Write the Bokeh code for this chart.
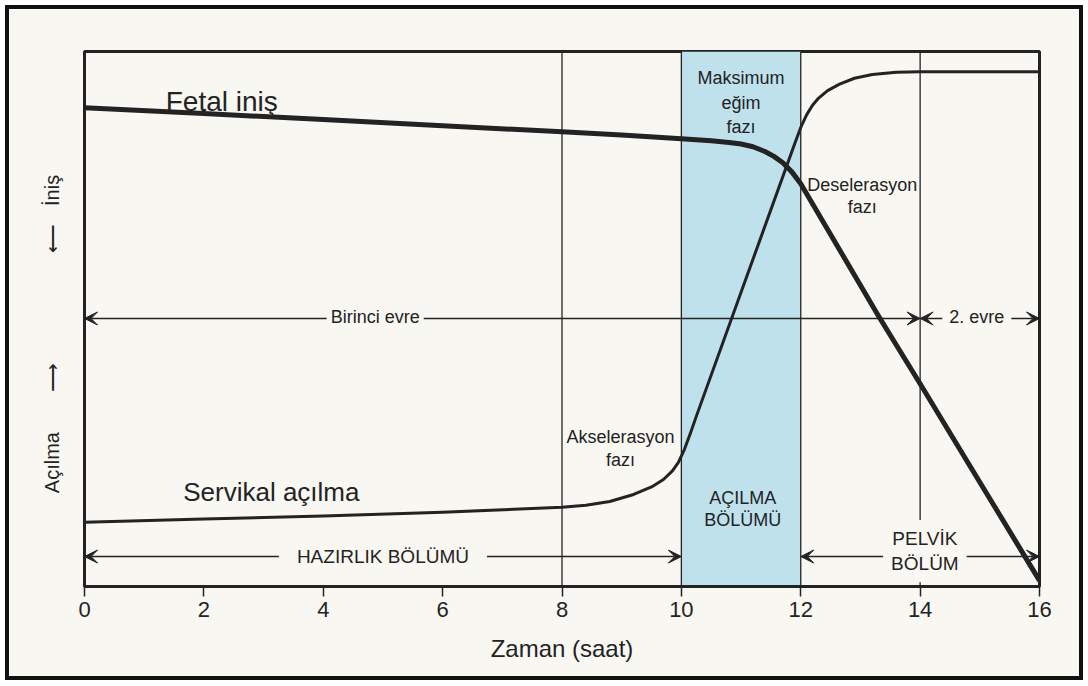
from bokeh.plotting import figure
from bokeh.models import Label, Arrow, VeeHead, FixedTicker
from bokeh.embed import file_html
from bokeh.resources import INLINE

# ---------------- data ----------------
tick_hours = [0, 2, 4, 6, 8, 10, 12, 14, 16]
phase_lines = [8, 10, 12, 14]
active_band_start = [10]
active_band_end = [12]

fetal_hours = [0, 2, 4, 6, 8, 9, 10, 10.5, 10.8, 11, 11.2, 11.4, 11.55, 11.7, 11.85, 12,
               13.3, 14, 15, 16]
fetal_descent = [89.5, 88.4, 87.3, 86.1, 85.0, 84.4, 83.7, 83.3, 83.0, 82.7, 82.2, 81.3, 80.4,
                 79.2, 77.5, 75.3, 50.6, 37.9, 19.5, 1.1]

dil_hours = [0, 2, 4, 6, 8, 8.4, 8.8, 9.2, 9.5, 9.7, 9.85, 9.95, 10.05, 10.15, 10.25, 11.0,
             11.9, 12.0, 12.1, 12.2, 12.3, 12.45, 12.65, 12.9, 13.2, 13.6, 14, 16]
cervical_dilation = [12.0, 12.6, 13.2, 13.9, 14.8, 15.2, 15.9, 17.2, 18.6, 20.0, 21.6, 23.2,
                     25.6, 28.6, 31.8, 55.0, 82.8, 85.8, 88.2, 90.0, 91.3, 92.7, 93.9, 95.0,
                     95.7, 96.1, 96.2, 96.2]

FONT = "Liberation Sans"
INK = "#232323"
BG = "#f8f7f2"
BLUE = "#bfe1ec"

p = figure(width=1078, height=675, x_range=(0, 16), y_range=(0, 100),
           output_backend="svg", toolbar_location=None,
           min_border_left=75, min_border_right=48, min_border_top=42, min_border_bottom=98)
p.styles = {"border": "4px solid #111", "margin": "5px 0 0 5px"}
p.background_fill_color = BG
p.border_fill_color = BG
p.grid.visible = False
p.outline_line_color = INK
p.outline_line_width = 3

# x axis
ax = p.xaxis[0]
ax.ticker = FixedTicker(ticks=tick_hours)
ax.axis_line_color = INK
ax.axis_line_width = 3
ax.major_tick_line_color = INK
ax.major_tick_line_width = 1.5
ax.major_tick_in = 0
ax.major_tick_out = 10
ax.minor_tick_line_color = None
ax.major_label_text_font = FONT
ax.major_label_text_font_size = "22px"
ax.major_label_text_color = INK
ax.major_label_standoff = 5
ax.axis_label = "Zaman (saat)"
ax.axis_label_text_font = FONT
ax.axis_label_text_font_size = "24px"
ax.axis_label_text_font_style = "normal"
ax.axis_label_text_color = INK
ax.axis_label_standoff = 15

# y axis: only the descriptive label (Açılma ⟶ ... ⟵ İniş)
ay = p.yaxis[0]
ay.ticker = FixedTicker(ticks=[])
ay.axis_line_color = None
ay.major_tick_out = 0
ay.major_tick_in = 0
ay.minor_tick_line_color = None
ay.major_label_standoff = 0
ay.major_label_text_font_size = "0px"
ay.axis_label = ("Açılma\u2003\u2003\u27f6"
                 "\u2003\u2003\u2003\u2003\u2003\u2002\u27f5\u2002\u2009\u2009İniş"
                 "\u2003\u2002")
ay.axis_label_text_font = FONT
ay.axis_label_text_font_size = "20px"
ay.axis_label_text_font_style = "normal"
ay.axis_label_text_color = INK
ay.axis_label_standoff = 22

# blue band (active phase)
p.quad(left=active_band_start, right=active_band_end, bottom=0, top=100,
       fill_color=BLUE, line_color=None)
# vertical phase lines
p.segment(x0=phase_lines, y0=0, x1=phase_lines, y1=100, line_color=INK, line_width=1.3)

# curves
p.line(fetal_hours, fetal_descent, line_color=INK, line_width=5, line_join="round")
p.line(dil_hours, cervical_dilation, line_color=INK, line_width=3, line_join="round")


def head():
    return VeeHead(size=13, fill_color=INK, line_color=INK, line_width=1)


def arrow(x0, x1, y):
    p.add_layout(Arrow(x_start=x0, y_start=y, x_end=x1, y_end=y, start=head(), end=head(),
                       line_color=INK, line_width=1.5))


def lab(x, y, text, size=18, bg=None, pad=0):
    kw = {}
    if bg is not None:
        kw = dict(background_fill_color=bg, padding=pad)
    p.add_layout(Label(x=x, y=y, text=text, text_font=FONT, text_font_size=f"{size}px",
                       text_align="center", text_baseline="middle", text_color=INK, **kw))


# stage arrows
arrow(0, 14, 50.1)
arrow(14, 16, 50.1)
arrow(0, 10, 5.6)
arrow(12, 16, 5.6)

lab(4.87, 50.3, "Birinci evre", 18, bg=BG, pad=4)
lab(14.95, 50.3, "2. evre", 18, bg=BG, pad=7)
lab(5.0, 5.6, "HAZIRLIK BÖLÜMÜ", 19, bg=BG, pad=18)
lab(14.08, 6.6, "PELVİK\nBÖLÜM", 19, bg=BG, pad=8)

# curve names
lab(2.3, 90.7, "Fetal iniş", 28)
lab(3.13, 17.6, "Servikal açılma", 26)

# phase names
lab(11.0, 95.0, "Maksimum", 18)
lab(11.0, 90.3, "eğim", 18)
lab(11.0, 85.8, "fazı", 18)
lab(13.03, 75.1, "Deselerasyon", 18)
lab(13.03, 71.0, "fazı", 18)
lab(8.98, 28.0, "Akselerasyon", 18)
lab(8.98, 23.6, "fazı", 18)
lab(11.03, 16.6, "AÇILMA", 18)
lab(11.03, 12.5, "BÖLÜMÜ", 18)

open("out.html", "w").write(file_html(p, INLINE))
